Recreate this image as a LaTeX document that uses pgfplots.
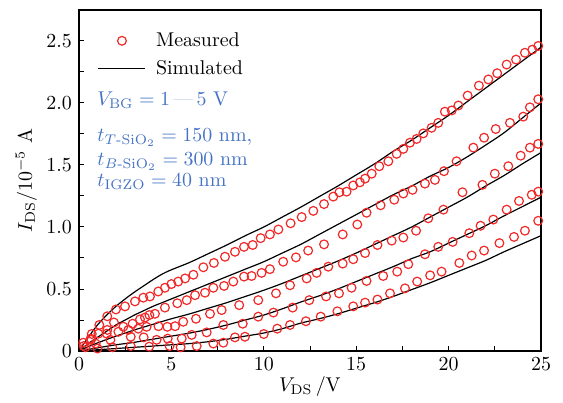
\documentclass[border=0pt]{standalone}
\usepackage{pgfplots}
\pgfplotsset{compat=1.18}
\usepackage{amsmath}
\definecolor{meas}{RGB}{240,40,40}
\definecolor{anno}{RGB}{68,114,196}

% simulated I-V curves, V_BG = 5 ... 1 V
\pgfplotstableread{
V   s1    s2    s3    s4    s5
0   0     0     0     0     0
0.5 0.11  0.06  0.035 0.013 0.005
1   0.21  0.11  0.065 0.025 0.01
1.5 0.29  0.16  0.093 0.038 0.015
2   0.36  0.21  0.12  0.05  0.02
2.5 0.42  0.25  0.145 0.06  0.025
3   0.475 0.29  0.17  0.07  0.03
3.5 0.525 0.325 0.193 0.083 0.035
4   0.575 0.36  0.215 0.095 0.04
4.5 0.62  0.39  0.238 0.108 0.045
5   0.655 0.42  0.26  0.12  0.05
6   0.715 0.48  0.30  0.145 0.06
7   0.785 0.54  0.345 0.175 0.075
8   0.855 0.60  0.39  0.21  0.095
9   0.93  0.66  0.44  0.25  0.12
10  1.00  0.72  0.49  0.29  0.145
11  1.08  0.79  0.545 0.34  0.18
12  1.16  0.86  0.605 0.395 0.225
13  1.245 0.94  0.665 0.445 0.26
14  1.33  1.02  0.725 0.50  0.30
15  1.42  1.10  0.79  0.56  0.345
16  1.51  1.18  0.86  0.62  0.39
17  1.61  1.26  0.93  0.68  0.44
18  1.70  1.33  1.00  0.745 0.495
19  1.80  1.41  1.08  0.80  0.55
20  1.90  1.48  1.16  0.87  0.61
21  2.01  1.565 1.24  0.94  0.67
22  2.12  1.66  1.33  1.01  0.73
23  2.23  1.76  1.415 1.09  0.80
24  2.34  1.88  1.51  1.165 0.865
25  2.45  2.00  1.60  1.24  0.93
}\simtable

\pgfplotsset{
  measured/.style={only marks, mark=o, mark size=2.2pt, color=meas, mark options={line width=0.6pt}},
  simulated/.style={black, line width=0.6pt, smooth},
}

\begin{document}
\begin{tikzpicture}
\useasboundingbox (-39.5bp,-26bp) rectangle (242bp,175.5bp);
\begin{axis}[
    scale only axis,
    width=231bp,
    height=170.5bp,
    xmin=0, xmax=25,
    ymin=0, ymax=2.75,
    xtick={0,5,10,15,20,25},
    ytick={0,0.5,1.0,1.5,2.0,2.5},
    yticklabels={0,0.5,1.0,1.5,2.0,2.5},
    minor tick num=1,
    tick pos=left,
    tick align=inside,
    major tick length=2.5bp,
    minor tick length=2.5bp,
    axis line style={line width=0.6pt},
    tick style={black, line width=0.5pt},
    xlabel={$V_{\mathrm{DS}}\,/\mathrm{V}$},
    ylabel={$I_{\mathrm{DS}}/10^{-5}$ A},
    xlabel style={yshift=4pt},
    ylabel style={yshift=-2pt},
    legend style={draw=none, fill=none, at={(0.035,0.953)}, anchor=north west,
        row sep=1.5bp, inner sep=1pt},
    legend cell align=left,
]
\addplot[measured,
    legend image code/.code={\path[draw=none, fill=none] (0cm,0cm) rectangle (0.95cm,0.01cm);
      \draw[meas, line width=0.6pt, mark=o, mark size=2.2pt] plot coordinates {(0.42cm,0cm)};}]
table {
0.23 0.067
0.69 0.137
1.10 0.21
1.53 0.28
2.00 0.335
2.49 0.36
3.03 0.40
3.48 0.43
3.84 0.44
4.29 0.48
4.65 0.51
5.00 0.54
5.37 0.56
5.74 0.585
6.19 0.615
6.73 0.675
7.30 0.71
7.90 0.76
8.44 0.80
8.93 0.84
9.40 0.855
9.83 0.91
10.33 0.94
10.79 0.98
11.45 1.03
12.05 1.08
12.68 1.13
13.26 1.185
13.76 1.245
14.09 1.28
14.48 1.285
14.84 1.335
15.20 1.36
15.48 1.39
15.84 1.43
16.25 1.49
16.74 1.53
17.19 1.59
17.55 1.63
17.91 1.68
18.27 1.71
18.63 1.755
19.08 1.80
19.44 1.84
19.80 1.93
20.17 1.94
20.53 1.98
21.03 2.06
21.64 2.14
22.15 2.19
22.63 2.24
23.14 2.31
23.65 2.35
24.13 2.405
24.53 2.43
24.85 2.46
};
\addlegendentry{Measured}
\addplot[simulated,
    legend image code/.code={\path[draw=none, fill=none] (0cm,0cm) rectangle (0.95cm,0.01cm);
      \draw[black, line width=0.6pt] (0cm,0cm) -- (0.82cm,0cm);}]
    table[x=V, y=s1] {\simtable};
\addlegendentry{Simulated}
\addplot[simulated, forget plot] table[x=V, y=s2] {\simtable};
\addplot[simulated, forget plot] table[x=V, y=s3] {\simtable};
\addplot[simulated, forget plot] table[x=V, y=s4] {\simtable};
\addplot[simulated, forget plot] table[x=V, y=s5] {\simtable};

% measured, remaining gate voltages
\addplot[measured, forget plot]
table {
0.25 0.04
0.65 0.09
1.05 0.14
1.53 0.17
1.89 0.23
2.40 0.196
2.90 0.22
3.30 0.255
3.57 0.27
3.81 0.29
4.11 0.30
4.65 0.35
5.32 0.385
5.83 0.41
6.28 0.45
6.82 0.47
7.27 0.51
7.85 0.525
8.35 0.56
8.93 0.60
9.34 0.605
9.88 0.63
10.33 0.66
11.05 0.72
11.74 0.755
12.40 0.81
13.26 0.86
14.27 0.94
15.06 1.02
15.56 1.115
16.32 1.175
17.06 1.22
17.55 1.27
18.05 1.30
18.72 1.35
19.26 1.38
19.75 1.45
20.43 1.53
21.34 1.64
21.92 1.72
22.55 1.79
23.32 1.84
24.04 1.89
24.40 1.965
24.85 2.03
};
\addplot[measured, forget plot]
table {
0.63 0.10
1.50 0.14
2.13 0.155
2.67 0.17
3.21 0.18
3.66 0.195
4.30 0.20
4.78 0.195
5.20 0.20
5.64 0.236
6.33 0.26
7.09 0.30
7.72 0.33
8.67 0.37
9.70 0.41
10.66 0.465
11.42 0.53
12.32 0.585
12.86 0.63
13.49 0.68
14.27 0.705
14.84 0.74
15.48 0.79
16.15 0.855
16.92 0.89
17.55 0.915
18.24 0.97
18.90 1.07
19.72 1.14
20.75 1.28
21.83 1.34
22.50 1.43
23.23 1.49
23.90 1.575
24.40 1.64
24.85 1.67
};
\addplot[measured, forget plot]
table {
0.35 0.03
0.90 0.06
1.70 0.09
2.80 0.115
3.50 0.11
4.20 0.09
4.80 0.10
5.56 0.10
6.10 0.13
6.91 0.15
7.81 0.21
8.86 0.22
9.70 0.277
10.52 0.31
11.56 0.35
12.46 0.41
13.37 0.44
14.07 0.465
14.75 0.51
15.56 0.565
16.46 0.605
17.22 0.64
17.82 0.70
18.72 0.78
19.44 0.84
20.22 0.88
21.12 0.95
21.73 1.01
22.42 1.06
23.14 1.14
23.81 1.21
24.50 1.26
24.85 1.285
};
\addplot[measured, forget plot]
table {
1.00 0.02
1.80 0.03
2.80 0.04
3.80 0.035
4.90 0.04
5.50 0.03
6.37 0.04
7.27 0.06
7.81 0.067
8.44 0.11
8.98 0.115
10.00 0.137
10.73 0.18
11.42 0.21
12.28 0.24
13.08 0.277
13.98 0.32
14.84 0.36
15.48 0.39
16.15 0.415
16.83 0.465
17.64 0.505
18.30 0.56
19.00 0.61
19.62 0.64
20.58 0.71
21.25 0.77
21.92 0.81
22.75 0.87
23.54 0.92
24.13 0.97
24.85 1.05
};

\node[anchor=base west, inner sep=0pt, text=anno] at (rel axis cs:0.039,0.721) {$V_{\mathrm{BG}}=1$\,\textcolor{anno!45}{---}\,$5$ V};
\node[anchor=base west, inner sep=0pt, text=anno] at (rel axis cs:0.039,0.613) {$t_{T\text{-}\mathrm{SiO}_2}=150$ nm,};
\node[anchor=base west, inner sep=0pt, text=anno] at (rel axis cs:0.039,0.545) {$t_{B\text{-}\mathrm{SiO}_2}=300$ nm};
\node[anchor=base west, inner sep=0pt, text=anno] at (rel axis cs:0.039,0.481) {$t_{\mathrm{IGZO}}=40$ nm};
\end{axis}
\end{tikzpicture}
\end{document}
